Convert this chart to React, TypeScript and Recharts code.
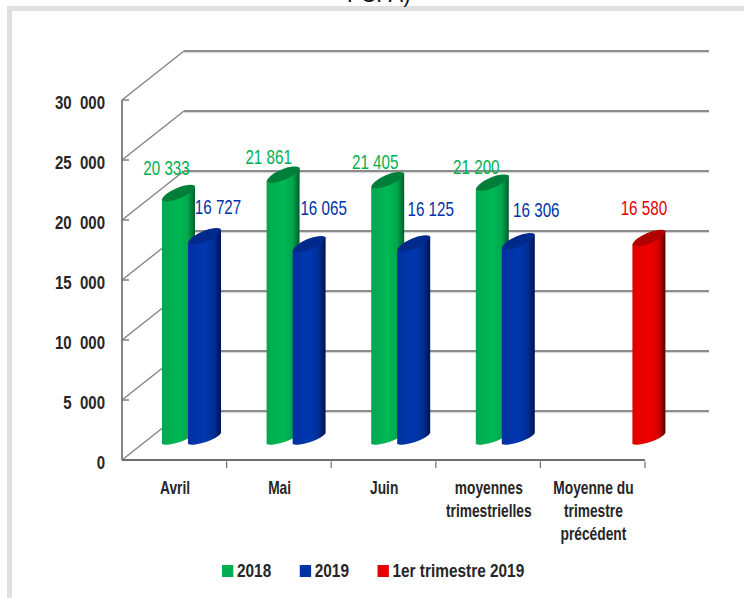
import React from 'react';
import { BarChart, Bar, XAxis, YAxis, CartesianGrid, LabelList, Legend } from 'recharts';

const categories = ['Avril', 'Mai', 'Juin', 'moyennes\ntrimestrielles', 'Moyenne du\ntrimestre\nprécédent'];
const values2018 = [20333, 21861, 21405, 21200, null];
const values2019 = [16727, 16065, 16125, 16306, null];
const valuesPrevQuarter = [null, null, null, null, 16580];
const yTicks = [0, 5000, 10000, 15000, 20000, 25000, 30000];
const seriesNames = ['2018', '2019', '1er trimestre 2019'];

// hand-placed label offsets relative to the bar, as in the source chart
const labelNudge2018 = [[-12, -41], [-14.5, -34], [-12.5, -34], [-16, -32], [0, 0]];
const labelNudge2019 = [[13.5, -45], [14.5, -52], [17, -51], [18, -47.5], [0, 0]];
const labelNudgePrev = [[0, 0], [0, 0], [0, 0], [0, 0], [-5, -46]];

const data = categories.map((name, i) => ({
  name,
  a: values2018[i],
  b: values2019[i],
  c: valuesPrevQuarter[i],
}));

const FONT = '"Liberation Sans", Arial, sans-serif';
const GREEN = '#00B050';
const BLUE = '#0033A8';
const RED = '#E60000';
const TOPS: Record<string, string> = { [GREEN]: '#007F3A', [BLUE]: '#00298C', [RED]: '#B00000' };
const GRAD: Record<string, string> = { [GREEN]: 'gGreen', [BLUE]: 'gBlue', [RED]: 'gRed' };

const DEPTH_X = 62;
const DEPTH_Y = 49;
const BAND = (645 - 122) / 5;
const SHIFT_X = 30;
const TOP_SHIFT = 23;
const BASE_SHIFT = 21.5;

function Cylinder(props: any) {
  const { x, y, width, height, fill } = props;
  if (props.value == null || !height) return null;
  const l = x + SHIFT_X;
  const r = l + width;
  const ty = y - TOP_SHIFT;
  const by = y + height - BASE_SHIFT;
  const tr = 7;
  const br = 5.5;
  const body =
    `M${l},${ty + tr} L${l},${by + br} A18 5 -18 0 0 ${r},${by - br} L${r},${ty - tr} Z`;
  const top = `M${l},${ty + tr} A18.2 6.4 -23 0 1 ${r},${ty - tr} A18.2 6.4 -23 0 1 ${l},${ty + tr} Z`;
  return (
    <g>
      <path d={body} fill={`url(#${GRAD[fill]})`} />
      <path d={top} fill={TOPS[fill]} />
    </g>
  );
}

function wallLine(props: any) {
  const { x1, x2, y1 } = props;
  const by = y1 - DEPTH_Y;
  return (
    <g key={`wall-${y1}`}>
      <path d={`M${x1},${y1} L${x1 + DEPTH_X},${by}`} fill="none" stroke="#808080" strokeWidth={1.3} />
      <path d={`M${x1 + DEPTH_X},${by + 1.6} L${x2 + 64},${by + 1.6}`} fill="none" stroke="#d4d4d4" strokeWidth={1} />
      <path d={`M${x1 + DEPTH_X},${by} L${x2 + 64},${by}`} fill="none" stroke="#8c8c8c" strokeWidth={2} />
      <path d={`M${x1},${y1} L${x1 + 7},${y1}`} fill="none" stroke="#6e6e6e" strokeWidth={1.3} />
    </g>
  );
}

function YTick(props: any) {
  const { x, y, payload } = props;
  const s = String(payload.value);
  const label = payload.value === 0 ? '0' : `${s.slice(0, -3)}\u00a0\u00a0${s.slice(-3)}`;
  return (
    <text
      transform={`translate(${x},${y + 9}) scale(0.79,1)`}
      textAnchor="end"
      fontFamily={FONT}
      fontWeight="bold"
      fontSize={19}
      fill="#262626"
    >
      {label}
    </text>
  );
}

function XTick(props: any) {
  const { x, y, payload } = props;
  const lines = String(payload.value).split('\n');
  return (
    <g>
      <path d={`M${x + BAND / 2},${y} L${x + BAND / 2},${y - 6.5}`} stroke="#6e6e6e" strokeWidth={1.2} fill="none" />
      {lines.map((t, i) => (
        <text
          key={i}
          transform={`translate(${x + 0.7},${494 + i * 23}) scale(0.765,1)`}
          textAnchor="middle"
          fontFamily={FONT}
          fontWeight="bold"
          fontSize={18}
          fill="#262626"
        >
          {t}
        </text>
      ))}
    </g>
  );
}

const makeLabel = (values: (number | null)[], nudge: number[][], color: string) => (props: any) => {
  const { x, y, width, value } = props;
  if (value == null) return null;
  const [dx, dy] = nudge[values.indexOf(value)];
  const cx = x + SHIFT_X + width / 2 + dx;
  return (
    <text
      transform={`translate(${cx},${y + dy}) scale(0.76,1)`}
      textAnchor="middle"
      fontFamily={FONT}
      fontSize={20}
      fill={color}
    >
      {`${String(value).slice(0, -3)} ${String(value).slice(-3)}`}
    </text>
  );
};

function LegendRow(props: any) {
  const items = props.payload || [];
  const sx = 0.81;
  return (
    <div
      style={{
        display: 'flex',
        fontFamily: FONT,
        fontWeight: 'bold',
        fontSize: 19,
        color: '#262626',
        lineHeight: '20px',
        transform: `scaleX(${sx})`,
        transformOrigin: 'left center',
      }}
    >
      {items.map((it: any) => (
        <div key={it.value} style={{ display: 'flex', alignItems: 'center', marginRight: 28.5 / sx }}>
          <span style={{ width: 11 / sx, height: 12, background: it.color, display: 'inline-block', marginRight: 4 / sx }} />
          <span style={{ whiteSpace: 'nowrap' }}>{it.value}</span>
        </div>
      ))}
    </div>
  );
}

function Grad({ id, a, b, c, d }: any) {
  return (
    <linearGradient id={id} x1="0" y1="0" x2="1" y2="0">
      <stop offset="0" stopColor={a} />
      <stop offset="0.5" stopColor={b} />
      <stop offset="0.78" stopColor={c} />
      <stop offset="1" stopColor={d} />
    </linearGradient>
  );
}

export default function App() {
  return (
    <div style={{ position: 'absolute', left: 0, top: 0, width: 744, height: 598, overflow: 'hidden', background: '#fff' }}>
      <div style={{ position: 'absolute', left: 7, top: 6, width: 800, height: 700, border: '5px solid #E0E0E0', boxSizing: 'border-box' }} />
      <div style={{ position: 'absolute', left: 347, top: -17, fontFamily: FONT, fontSize: 22, lineHeight: '24px', color: '#111' }}>
        FCFA)
      </div>
      <div style={{ position: 'absolute', left: 0, top: 0 }}>
        <BarChart
          width={744}
          height={598}
          data={data}
          margin={{ top: 100, right: 99, bottom: 0, left: 0 }}
          barSize={33}
          barGap={-7}
          barCategoryGap={0}
        >
          <defs>
            <Grad id="gGreen" a="#00A850" b="#00B854" c="#00A84C" d="#005E2C" />
            <Grad id="gBlue" a="#0030A0" b="#0038B0" c="#002E96" d="#001450" />
            <Grad id="gRed" a="#E00000" b="#F00000" c="#D80000" d="#580000" />
          </defs>
          <CartesianGrid horizontal={wallLine} vertical={false} />
          <XAxis
            dataKey="name"
            height={138}
            interval={0}
            tickLine={false}
            tick={XTick}
            axisLine={{ stroke: '#6e6e6e', strokeWidth: 2 }}
          />
          <YAxis
            width={122}
            domain={[0, 30000]}
            ticks={yTicks}
            tickLine={false}
            tickSize={0}
            tickMargin={17}
            tick={YTick}
            axisLine={{ stroke: '#7a7a7a', strokeWidth: 1.8 }}
          />
          <Bar dataKey="a" name={seriesNames[0]} fill={GREEN} shape={Cylinder} isAnimationActive={false}>
            <LabelList dataKey="a" content={makeLabel(values2018, labelNudge2018, GREEN)} />
          </Bar>
          <Bar dataKey="b" name={seriesNames[1]} fill={BLUE} shape={Cylinder} isAnimationActive={false}>
            <LabelList dataKey="b" content={makeLabel(values2019, labelNudge2019, BLUE)} />
          </Bar>
          <Bar dataKey="c" name={seriesNames[2]} fill={RED} shape={Cylinder} isAnimationActive={false}>
            <LabelList dataKey="c" content={makeLabel(valuesPrevQuarter, labelNudgePrev, RED)} />
          </Bar>
          <Legend
            layout="horizontal"
            verticalAlign="middle"
            itemSorter={null}
            content={LegendRow}
            wrapperStyle={{ position: 'absolute', left: 222, top: 561, width: 500, height: 22 }}
          />
        </BarChart>
      </div>
    </div>
  );
}
